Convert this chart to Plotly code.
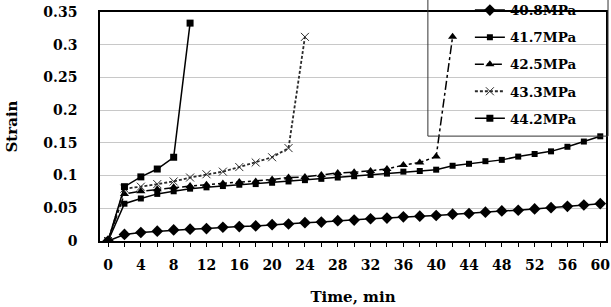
import plotly.graph_objects as go

t = [0, 2, 4, 6, 8, 10, 12, 14, 16, 18, 20, 22, 24, 26, 28, 30,
     32, 34, 36, 38, 40, 42, 44, 46, 48, 50, 52, 54, 56, 58, 60]

s408 = [0, 0.010, 0.013, 0.015, 0.017, 0.018, 0.019, 0.021, 0.022, 0.023, 0.025,
        0.026, 0.028, 0.029, 0.031, 0.032, 0.034, 0.035, 0.037, 0.038, 0.039,
        0.041, 0.042, 0.044, 0.046, 0.047, 0.049, 0.051, 0.053, 0.055, 0.057]
s417 = [0, 0.057, 0.065, 0.072, 0.076, 0.080, 0.082, 0.084, 0.086, 0.087, 0.089,
        0.091, 0.093, 0.095, 0.097, 0.099, 0.101, 0.103, 0.106, 0.107, 0.109,
        0.115, 0.118, 0.122, 0.124, 0.129, 0.133, 0.137, 0.144, 0.152, 0.160]
t425 = t[:22]
s425 = [0, 0.072, 0.076, 0.079, 0.082, 0.084, 0.086, 0.088, 0.090, 0.091, 0.094,
        0.097, 0.098, 0.101, 0.104, 0.105, 0.107, 0.110, 0.116, 0.120, 0.129, 0.312]
t433 = t[:13]
s433 = [0, 0.080, 0.083, 0.087, 0.091, 0.097, 0.102, 0.106, 0.113, 0.120, 0.128, 0.142, 0.312]
t442 = t[:6]
s442 = [0, 0.083, 0.098, 0.110, 0.128, 0.333]

names = ["40.8MPa", "41.7MPa", "42.5MPa", "43.3MPa", "44.2MPa"]

FONT = "DejaVu Serif"
fig = go.Figure()

fig.add_trace(go.Scatter(x=t, y=s408, name=names[0], mode="lines+markers",
                         line=dict(color="black", width=1.5),
                         marker=dict(symbol="diamond", size=9, color="black"),
                         legendgroup="a"))
fig.add_trace(go.Scatter(x=t, y=s417, name=names[1], mode="lines+markers",
                         line=dict(color="black", width=1.5),
                         marker=dict(symbol="square", size=6, color="black"),
                         legendgroup="b"))
fig.add_trace(go.Scatter(x=t425, y=s425, name=names[2], mode="lines+markers",
                         line=dict(color="black", width=1.5, dash="dashdot"),
                         marker=dict(symbol="triangle-up", size=8, color="black"),
                         legendgroup="c"))
fig.add_trace(go.Scatter(x=t433, y=s433, name=names[3], mode="lines+markers",
                         line=dict(color="#2a2a2a", width=1.8, dash="3px,2px"),
                         marker=dict(symbol="x-thin-open", size=8,
                                     line=dict(color="#444444", width=1)),
                         legendgroup="d"))
fig.add_trace(go.Scatter(x=t442, y=s442, name=names[4], mode="lines+markers",
                         line=dict(color="black", width=1.5),
                         marker=dict(symbol="square", size=7, color="black"),
                         legendgroup="e"))

# legend frame
fig.add_shape(type="rect", xref="paper", yref="paper",
              x0=0.648, x1=1.004, y0=0.458, y1=1.2,
              line=dict(color="#333333", width=1), fillcolor="rgba(0,0,0,0)")

fig.update_layout(
    width=611, height=307,
    margin=dict(l=100, r=5, t=12, b=66, autoexpand=False),
    paper_bgcolor="white", plot_bgcolor="white",
    font=dict(family=FONT, size=14, color="black"),
    showlegend=True,
    legend=dict(x=0.731, y=1.075, xanchor="left", yanchor="top",
                bgcolor="rgba(0,0,0,0)", borderwidth=0,
                font=dict(family=FONT, size=13.5, color="black", weight="bold"),
                tracegroupgap=6.5),
    xaxis=dict(range=[-0.98, 60.7], tick0=0, dtick=4,
               showgrid=False, zeroline=False,
               showline=True, linecolor="black", linewidth=1.5, mirror=True,
               ticks="outside", ticklen=4, tickcolor="black",
               minor=dict(dtick=2, ticks="outside", ticklen=4, tickcolor="black", showgrid=False),
               ticklabelstandoff=6,
               tickfont=dict(family=FONT, size=14, weight="bold"),
               title=dict(text="<b>Time, min</b>", font=dict(family=FONT, size=15), standoff=20)),
    yaxis=dict(range=[0, 0.35], tick0=0, dtick=0.05,
               showgrid=True, gridcolor="#c8c8c8", gridwidth=1.2, zeroline=False,
               showline=True, linecolor="black", linewidth=1.5, mirror=True,
               ticks="", ticklabelstandoff=18,
               tickfont=dict(family=FONT, size=14, weight="bold"),
               title=dict(text="<b>Strain</b>", font=dict(family=FONT, size=15), standoff=22)),
)

fig.write_html("out.html")
